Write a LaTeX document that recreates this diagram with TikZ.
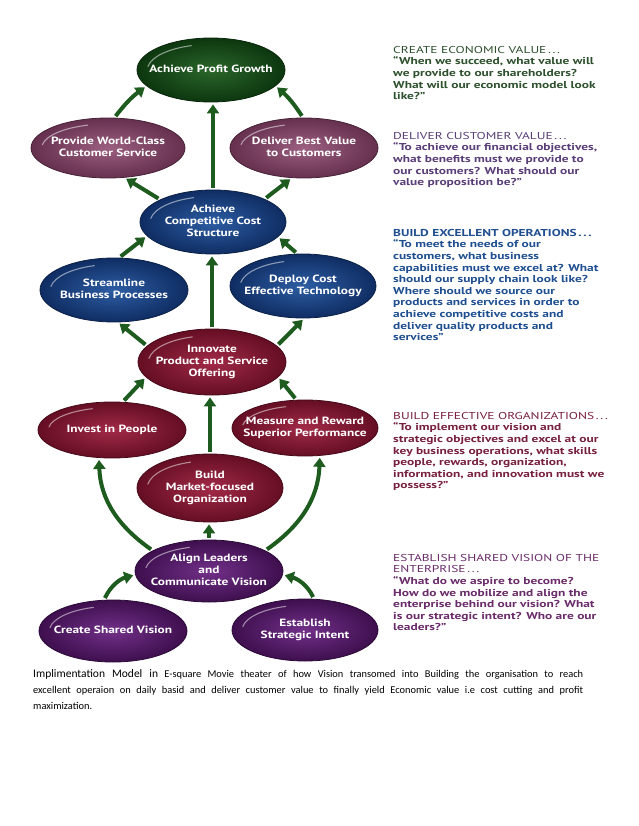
\documentclass[tikz,border=0pt]{standalone}
\usepackage{fontspec}
\setmainfont[FakeStretch=1.34]{PT Sans}
\newfontfamily\ovalfont[FakeStretch=1.27]{PT Sans}
\newfontfamily\capfont{Carlito}
\usetikzlibrary{shapes.geometric,arrows.meta,calc}
\newcommand\ovtxt[1]{\makebox[0pt]{\begin{tabular}{@{}c@{}}#1\end{tabular}}}
\definecolor{agreen}{HTML}{1E5B1E}
\definecolor{gIn}{HTML}{2A662A}\definecolor{gOut}{HTML}{0D370F}
\definecolor{mIn}{HTML}{9C5F80}\definecolor{mOut}{HTML}{66304F}
\definecolor{bIn}{HTML}{2D5DA3}\definecolor{bOut}{HTML}{0F2D63}
\definecolor{cIn}{HTML}{A22A47}\definecolor{cOut}{HTML}{650E24}
\definecolor{pIn}{HTML}{723089}\definecolor{pOut}{HTML}{3E0F4E}
\definecolor{t1c}{HTML}{2E512E}
\definecolor{t2c}{HTML}{5A3E78}
\definecolor{t3c}{HTML}{1F4F90}
\definecolor{t4c}{HTML}{78203F}
\definecolor{t5c}{HTML}{6A2C6A}
\begin{document}
\begin{tikzpicture}[x=1pt,y=1pt,
  oval/.style={ellipse, line width=0.8pt, inner sep=0pt, text=white,
    font=\ovalfont\fontsize{10.5}{12}\selectfont\bfseries},
  gnode/.style={oval, draw=gOut!70!black, inner color=gIn, outer color=gOut},
  mnode/.style={oval, draw=mOut!70!black, inner color=mIn, outer color=mOut},
  bnode/.style={oval, draw=bOut!70!black, inner color=bIn, outer color=bOut},
  cnode/.style={oval, draw=cOut!70!black, inner color=cIn, outer color=cOut},
  pnode/.style={oval, draw=pOut!70!black, inner color=pIn, outer color=pOut},
  arr/.style={draw=agreen, line width=4pt, -{Triangle[width=12pt,length=9pt]},
    shorten <=2pt, shorten >=2pt},
  rtext/.style={anchor=north west, inner sep=0pt, align=left,
    font=\fontsize{10}{11.6}\selectfont\bfseries},
  captext/.style={anchor=base west, inner sep=0pt, font=\capfont\fontsize{10.4}{12}\selectfont}
]
\useasboundingbox[fill=white] (0,0) rectangle (638,-826);

% ellipses
\node[gnode, minimum width=148pt, minimum height=64pt] (pg) at (211,-70) {\ovtxt{Achieve Profit Growth}};
\node[mnode, minimum width=154pt, minimum height=60pt] (prov) at (108,-148) {\ovtxt{Provide World-Class\\Customer Service}};
\node[mnode, minimum width=148pt, minimum height=60pt] (dlv) at (304,-148) {\ovtxt{Deliver Best Value\\to Customers}};
\node[bnode, minimum width=146pt, minimum height=64pt] (comp) at (213,-222) {\ovtxt{Achieve\\Competitive Cost\\Structure}};
\node[bnode, minimum width=148pt, minimum height=64pt] (strm) at (114,-290) {\ovtxt{Streamline\\Business Processes}};
\node[bnode, minimum width=146pt, minimum height=64pt] (depl) at (303,-286) {\ovtxt{Deploy Cost\\Effective Technology}};
\node[cnode, minimum width=148pt, minimum height=66pt] (innov) at (212,-362) {\ovtxt{Innovate\\Product and Service\\Offering}};
\node[cnode, minimum width=148pt, minimum height=56pt] (invest) at (112,-430) {\ovtxt{Invest in People}};
\node[cnode, minimum width=146pt, minimum height=56pt] (meas) at (305,-428) {\ovtxt{Measure and Reward\\Superior Performance}};
\node[cnode, minimum width=146pt, minimum height=68pt] (build) at (210,-488) {\ovtxt{Build\\Market-focused\\Organization}};
\node[pnode, minimum width=148pt, minimum height=62pt] (align) at (209,-571) {\ovtxt{Align Leaders\\and\\Communicate Vision}};
\node[pnode, minimum width=148pt, minimum height=62pt] (create) at (113,-631) {\ovtxt{Create Shared Vision}};
\node[pnode, minimum width=146pt, minimum height=62pt] (estab) at (305,-630) {\ovtxt{Establish\\Strategic Intent}};

% highlights
\foreach \n/\rx/\ry in {pg/74/32,prov/77/30,dlv/74/30,comp/73/32,strm/74/32,depl/73/32,
  innov/74/33,invest/74/28,meas/73/28,build/73/34,align/74/31,create/74/31,estab/73/31}{
  \draw[white, opacity=0.5, line width=1.1pt, line cap=round]
    ($(\n.center)+({0.86*\rx*cos(172)},{0.8*\ry*sin(172)})$)
    arc[start angle=172, end angle=108, x radius=0.86*\rx, y radius=0.8*\ry];
}

% connectors
\draw[arr] (comp.north) -- (comp.north |- pg.south);
\draw[arr] (prov.78) to[bend left=8] (pg.194);
\draw[arr] (dlv.92) to[bend right=8] (pg.346);
\draw[arr] (comp.157) -- (prov.299);
\draw[arr] (comp.24) -- (dlv.248);
\draw[arr] (strm.81) -- (comp.192);
\draw[arr] (depl.100) -- (comp.347);
\draw[arr] (innov.north) -- (innov.north |- comp.south);
\draw[arr] (innov.166) -- (strm.277);
\draw[arr] (innov.14) -- (depl.272);
\draw[arr] (invest.69) -- (innov.193);
\draw[arr] (meas.107) -- (innov.347);
\draw[arr] (build.north) -- (build.north |- innov.south);
\draw[arr] (align.north) -- (align.north |- build.south);
\draw[arr] (align.160) to[out=145, in=-88] (invest.245);
\draw[arr] (align.20) to[out=35, in=-92] (meas.298);
\draw[arr] (create.106) to[out=65, in=195] (align.183);
\draw[arr] (estab.74) to[out=115, in=-15] (align.357);

% right-hand texts
\node[rtext, text=t1c] (txt1) at (393,-46) {{\mdseries CREATE ECONOMIC VALUE\,.\,.\,.}\\
“When we succeed, what value will\\
we provide to our shareholders?\\
What will our economic model look\\
like?”};
\node[rtext, text=t2c] (txt2) at (393,-132) {{\mdseries DELIVER CUSTOMER VALUE\,.\,.\,.}\\
“To achieve our financial objectives,\\
what benefits must we provide to\\
our customers? What should our\\
value proposition be?”};
\node[rtext, text=t3c] (txt3) at (393,-229) {BUILD EXCELLENT OPERATIONS\,.\,.\,.\\
“To meet the needs of our\\
customers, what business\\
capabilities must we excel at? What\\
should our supply chain look like?\\
Where should we source our\\
products and services in order to\\
achieve competitive costs and\\
deliver quality products and\\
services”};
\node[rtext, text=t4c] (txt4) at (393,-412) {{\mdseries BUILD EFFECTIVE ORGANIZATIONS\,.\,.\,.}\\
“To implement our vision and\\
strategic objectives and excel at our\\
key business operations, what skills\\
people, rewards, organization,\\
information, and innovation must we\\
possess?”};
\node[rtext, text=t5c] (txt5) at (393,-554) {{\mdseries ESTABLISH SHARED VISION OF THE}\\
{\mdseries ENTERPRISE\,.\,.\,.}\\
“What do we aspire to become?\\
How do we mobilize and align the\\
enterprise behind our vision? What\\
is our strategic intent? Who are our\\
leaders?”};

% caption
\node[captext] (cap1) at (33,-677) {\makebox[550pt][s]{{\fontsize{11.5}{12}\selectfont Implimentation Model in} E-square Movie theater of how Vision transomed into Building the organisation to reach}};
\node[captext] (cap2) at (33,-693) {\makebox[550pt][s]{excellent operaion on daily basid and deliver customer value to finally yield Economic value i.e cost cutting and profit}};
\node[captext] (cap3) at (33,-709) {maximization.};
\end{tikzpicture}
\end{document}
